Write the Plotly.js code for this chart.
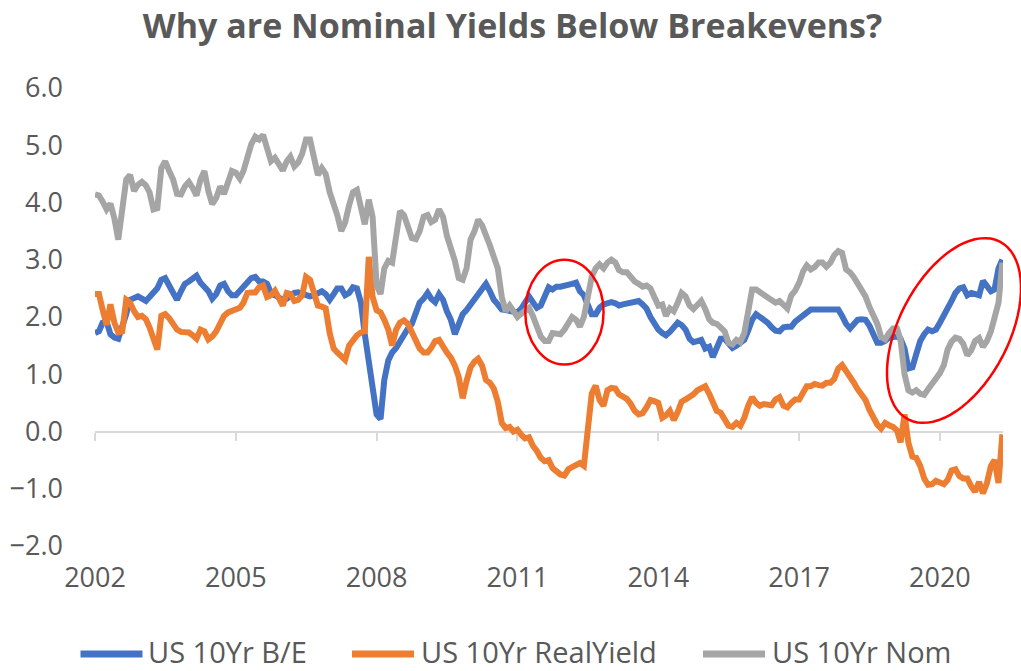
<!DOCTYPE html>
<html>
<head>
<meta charset="utf-8">
<script src="https://cdn.plot.ly/plotly-3.0.1.min.js"></script>
<style>html,body{margin:0;padding:0;background:#fff;}#chart{width:1021px;height:671px;}</style>
</head>
<body>
<div id="chart"></div>
<script>
// Monthly observations, Jan 2002 .. May 2021 (one row per year)
const breakeven = [
  1.72,1.75,1.90,1.92,1.70,1.64,1.62,1.80,2.05,2.30,2.32,2.36,
  2.32,2.28,2.35,2.43,2.50,2.65,2.68,2.55,2.42,2.30,2.45,2.58,
  2.62,2.66,2.72,2.60,2.52,2.45,2.32,2.40,2.55,2.58,2.45,2.38,
  2.38,2.45,2.53,2.58,2.68,2.70,2.62,2.62,2.58,2.42,2.38,2.33,
  2.30,2.32,2.38,2.42,2.43,2.40,2.38,2.36,2.38,2.42,2.45,2.40,
  2.30,2.40,2.50,2.50,2.38,2.42,2.52,2.50,2.25,1.70,1.20,0.88,
  0.30,0.22,0.90,1.24,1.38,1.46,1.58,1.70,1.80,1.88,2.10,2.25,
  2.32,2.42,2.32,2.26,2.40,2.30,2.10,1.95,1.70,1.90,2.05,2.12,
  2.22,2.30,2.38,2.48,2.58,2.45,2.30,2.22,2.13,2.12,2.10,2.10,
  2.08,2.15,2.25,2.36,2.26,2.16,2.20,2.35,2.52,2.48,2.53,2.53,
  2.54,2.56,2.58,2.60,2.45,2.38,2.22,2.05,2.05,2.16,2.22,2.25,
  2.26,2.24,2.20,2.22,2.24,2.25,2.26,2.28,2.22,2.15,2.00,1.88,
  1.78,1.72,1.68,1.74,1.82,1.90,1.86,1.78,1.62,1.56,1.58,1.60,
  1.45,1.48,1.30,1.45,1.62,1.62,1.55,1.46,1.50,1.56,1.60,1.76,
  1.95,2.05,2.00,1.96,1.90,1.82,1.76,1.75,1.82,1.83,1.83,1.92,
  1.98,2.05,2.10,2.13,2.13,2.13,2.15,2.15,2.13,2.13,2.13,2.02,
  1.88,1.80,1.88,1.95,1.96,1.95,1.85,1.70,1.55,1.55,1.58,1.64,
  1.66,1.66,1.62,1.45,1.10,1.12,1.35,1.58,1.70,1.78,1.75,1.78,
  1.90,2.05,2.18,2.28,2.42,2.50,2.52,2.38,2.42,2.40,2.38,2.63,
  2.55,2.45,2.48,2.85,3.00
];
const realYield = [
  2.40,2.40,2.13,1.86,2.22,1.90,1.73,1.75,2.30,2.25,2.10,2.00,
  2.02,1.96,1.82,1.65,1.43,2.02,2.05,1.98,1.86,1.78,1.74,1.73,
  1.73,1.68,1.62,1.78,1.75,1.61,1.66,1.75,1.90,2.02,2.08,2.11,
  2.13,2.16,2.25,2.42,2.43,2.43,2.52,2.55,2.35,2.38,2.46,2.30,
  2.20,2.42,2.40,2.28,2.30,2.38,2.70,2.65,2.45,2.20,2.18,2.15,
  1.72,1.45,1.38,1.30,1.25,1.50,1.61,1.68,1.73,1.75,3.05,2.35,
  2.12,2.08,1.95,1.78,1.50,1.78,1.90,1.94,1.88,1.75,1.56,1.45,
  1.38,1.38,1.46,1.58,1.60,1.46,1.38,1.29,1.15,0.95,0.58,0.88,
  1.12,1.22,1.27,1.15,0.90,0.85,0.75,0.52,0.15,0.06,0.08,0.00,
  0.03,-0.06,-0.12,-0.10,-0.25,-0.34,-0.46,-0.52,-0.50,-0.64,-0.70,-0.75,
  -0.77,-0.66,-0.62,-0.57,-0.55,-0.60,0.15,0.66,0.80,0.55,0.45,0.72,
  0.76,0.75,0.65,0.60,0.57,0.48,0.36,0.30,0.32,0.42,0.55,0.53,
  0.50,0.24,0.28,0.36,0.20,0.34,0.52,0.56,0.60,0.65,0.72,0.77,
  0.79,0.66,0.48,0.36,0.33,0.22,0.10,0.08,0.15,0.10,0.24,0.45,
  0.60,0.50,0.45,0.48,0.47,0.46,0.56,0.60,0.45,0.42,0.50,0.56,
  0.56,0.68,0.79,0.79,0.83,0.81,0.80,0.85,0.85,0.92,1.10,1.16,
  1.07,0.97,0.86,0.74,0.63,0.55,0.38,0.22,0.12,0.05,0.15,0.11,
  0.08,0.02,-0.19,0.30,-0.20,-0.44,-0.46,-0.60,-0.82,-0.93,-0.92,-0.86,
  -0.88,-0.92,-0.85,-0.68,-0.66,-0.78,-0.82,-0.82,-0.96,-1.05,-0.88,-1.08,
  -0.90,-0.60,-0.50,-0.90,-0.05
];
const nominal = [
  4.14,4.12,4.02,3.88,3.98,3.72,3.35,3.95,4.40,4.48,4.20,4.31,
  4.36,4.30,4.18,3.88,3.90,4.60,4.72,4.55,4.40,4.15,4.14,4.28,
  4.36,4.25,4.12,4.40,4.55,4.20,3.97,4.08,4.28,4.15,4.35,4.55,
  4.52,4.42,4.55,4.80,5.02,5.15,5.10,5.18,4.97,4.72,4.78,4.68,
  4.56,4.72,4.80,4.63,4.70,4.85,5.10,5.10,4.82,4.48,4.60,4.50,
  4.18,3.98,3.78,3.50,3.65,3.95,4.18,4.22,3.88,3.62,4.05,3.75,
  2.55,2.40,2.85,2.98,2.95,3.50,3.85,3.78,3.55,3.38,3.36,3.50,
  3.75,3.78,3.66,3.70,3.88,3.75,3.42,3.20,2.98,2.68,2.65,2.85,
  3.35,3.50,3.70,3.60,3.45,3.25,3.05,2.85,2.35,2.10,2.20,2.12,
  2.00,2.06,2.12,2.16,2.02,1.85,1.66,1.58,1.58,1.72,1.72,1.70,
  1.78,1.88,2.00,1.95,1.83,2.00,2.35,2.70,2.85,2.92,2.85,2.95,
  3.00,2.95,2.82,2.78,2.78,2.70,2.62,2.58,2.53,2.55,2.50,2.35,
  2.20,2.22,2.02,2.15,2.10,2.25,2.42,2.36,2.20,2.14,2.22,2.28,
  2.14,1.96,1.90,1.88,1.82,1.75,1.55,1.52,1.60,1.56,1.72,2.15,
  2.48,2.48,2.44,2.38,2.33,2.29,2.25,2.28,2.22,2.15,2.38,2.46,
  2.60,2.80,2.90,2.83,2.87,2.95,2.95,2.88,2.95,3.08,3.15,3.12,
  2.83,2.78,2.70,2.58,2.45,2.36,2.18,2.05,1.88,1.65,1.61,1.72,
  1.80,1.80,1.60,1.00,0.72,0.68,0.72,0.66,0.64,0.74,0.83,0.93,
  1.02,1.16,1.43,1.57,1.64,1.62,1.53,1.33,1.42,1.58,1.63,1.48,
  1.58,1.75,2.00,2.25,2.95
];
const seriesNames = ['US 10Yr B/E', 'US 10Yr RealYield', 'US 10Yr Nom'];
const seriesColors = ['#4472C4', '#ED7D31', '#A5A5A5'];
const startYear = 2002;
const tickYears = [2002, 2005, 2008, 2011, 2014, 2017, 2020];

// monthly date labels matching the series length
const months = [];
for (let i = 0; i < breakeven.length; i++) {
  const y = startYear + Math.floor(i / 12), m = (i % 12) + 1;
  months.push(y + '-' + String(m).padStart(2, '0') + '-01');
}

const xRange = ['2002-01-01', '2021-05-06'];
const tickVals = tickYears.map(y => y + '-01-01');
const tickText = tickYears.map(String);

const FONT = 'Open Sans, Noto Sans, sans-serif';
const GREY_TXT = '#595959';

const traces = [
  {x: months, y: breakeven, name: seriesNames[0], type: 'scatter', mode: 'lines',
   line: {color: seriesColors[0], width: 6}, xaxis: 'x', yaxis: 'y'},
  {x: months, y: realYield, name: seriesNames[1], type: 'scatter', mode: 'lines',
   line: {color: seriesColors[1], width: 6}, xaxis: 'x', yaxis: 'y'},
  {x: months, y: nominal, name: seriesNames[2], type: 'scatter', mode: 'lines',
   line: {color: seriesColors[2], width: 6}, xaxis: 'x2', yaxis: 'y'}
];

// plot-area geometry (pixels) for paper-referenced decorations
const L = 95, R = 18, T = 88, B = 125, W = 1021, H = 671;
const pw = W - L - R, ph = H - T - B;
const fx = px => (px - L) / pw;
const fy = py => (H - B - py) / ph;
function ellipsePath(cx, cy, a, b, deg) {
  const th = deg * Math.PI / 180;
  let d = '';
  for (let k = 0; k <= 72; k++) {
    const t = 2 * Math.PI * k / 72;
    const X = a * Math.cos(t) * Math.cos(th) - b * Math.sin(t) * Math.sin(th);
    const Y = a * Math.cos(t) * Math.sin(th) + b * Math.sin(t) * Math.cos(th);
    d += (k === 0 ? 'M' : 'L') + fx(cx + X).toFixed(5) + ',' + fy(cy - Y).toFixed(5);
  }
  return d + 'Z';
}

// legend drawn as line swatches + text (positions in pixels)
const legendSwatchX = [[80.5, 142.5], [352, 414], [703, 765]];
const legendTextX = [147, 420, 770.5];
const legendSwatchY = 654;
const legendTextY = 651;

const shapes = [
  {type: 'circle', xref: 'x', yref: 'y', x0: '2011-03-03', x1: '2012-11-01',
   y0: 1.17, y1: 3.0, line: {color: '#FF0000', width: 2.5}},
  {type: 'path', xref: 'paper', yref: 'paper', path: ellipsePath(954, 330.5, 100, 55, 62.7),
   line: {color: '#FF0000', width: 2.5}}
];
const annotations = [];
seriesNames.forEach((nm, i) => {
  shapes.push({type: 'line', xref: 'paper', yref: 'paper',
    x0: fx(legendSwatchX[i][0]), x1: fx(legendSwatchX[i][1]),
    y0: fy(legendSwatchY), y1: fy(legendSwatchY),
    line: {color: seriesColors[i], width: 7}});
  annotations.push({text: nm, xref: 'paper', yref: 'paper', x: fx(legendTextX[i]), y: fy(legendTextY),
    xanchor: 'left', yanchor: 'middle', showarrow: false, borderpad: 0,
    font: {family: FONT, size: 29, color: GREY_TXT}});
});

const layout = {
  width: W, height: H,
  margin: {l: L, r: R, t: T, b: B, pad: 0},
  paper_bgcolor: '#fff', plot_bgcolor: '#fff',
  font: {family: FONT, color: GREY_TXT},
  title: {text: 'Why are Nominal Yields Below Breakevens?',
          font: {family: FONT, size: 34, color: GREY_TXT, weight: 700},
          x: 0.502, xref: 'container', xanchor: 'center',
          y: 0.961, yref: 'container', yanchor: 'middle'},
  xaxis: {type: 'date', range: xRange, tickvals: tickVals, ticktext: tickText,
          showgrid: false, zeroline: false, showline: false, ticks: '',
          tickfont: {family: FONT, size: 27, color: GREY_TXT}, ticklabelstandoff: 13},
  xaxis2: {type: 'date', range: xRange, tickvals: tickVals, overlaying: 'x',
           anchor: 'free', position: 0.25, showgrid: false, zeroline: false,
           showline: true, linecolor: '#D9D9D9', linewidth: 2,
           ticks: 'outside', ticklen: 8, tickwidth: 2, tickcolor: '#D9D9D9',
           showticklabels: false, layer: 'below traces'},
  yaxis: {range: [-2, 6], dtick: 1, tick0: 0, tickformat: '.1f',
          showgrid: false, zeroline: false, showline: false, ticks: '',
          tickfont: {family: FONT, size: 27, color: GREY_TXT}, ticklabelstandoff: 31},
  showlegend: false,
  shapes: shapes,
  annotations: annotations,
  hovermode: false
};

Plotly.newPlot('chart', traces, layout, {displayModeBar: false, staticPlot: true});
</script>
</body>
</html>
